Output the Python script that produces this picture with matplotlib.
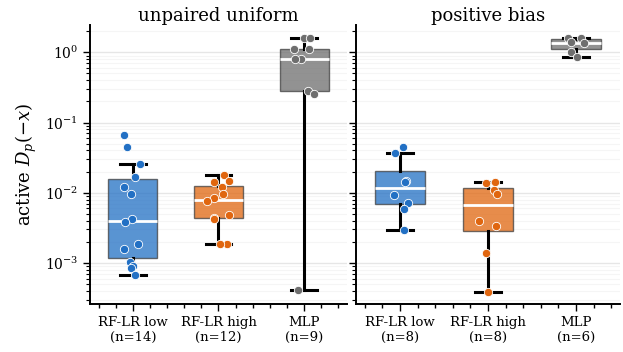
import matplotlib
matplotlib.use("Agg")
import matplotlib.pyplot as plt
from matplotlib.ticker import MultipleLocator, LogLocator, NullFormatter
import numpy as np

plt.rcParams["font.family"] = "DejaVu Serif"
plt.rcParams["mathtext.fontset"] = "dejavuserif"

panels = ["unpaired uniform", "positive bias"]
models = ["RF-LR low", "RF-LR high", "MLP"]
colors = ["#2270c4", "#e0660f", "#6e6e6e"]

# active D_p(-x) per run
uniform_low = [0.0667, 0.0454, 0.0258, 0.0167, 0.0119, 0.00964, 0.00425,
               0.00377, 0.00186, 0.00156, 0.00103, 0.00091, 0.000846, 0.000673]
uniform_high = [0.0180, 0.0148, 0.0141, 0.0120, 0.00955, 0.00828, 0.00759,
                0.00485, 0.00440, 0.00425, 0.00186, 0.00185]
uniform_mlp = [1.61, 1.60, 1.11, 1.10, 0.81, 0.80, 0.284, 0.252, 0.000406]

bias_low = [0.0450, 0.0366, 0.0149, 0.0141, 0.00933, 0.00718, 0.00585, 0.00297]
bias_high = [0.0141, 0.0138, 0.0108, 0.00955, 0.00398, 0.00331, 0.00137, 0.00039]
bias_mlp = [1.58, 1.58, 1.39, 1.34, 1.02, 0.866]

data = [
    [uniform_low, uniform_high, uniform_mlp],
    [bias_low, bias_high, bias_mlp],
]

fig = plt.figure(figsize=(6.23, 3.52), dpi=100)
ax_l = fig.add_axes([90 / 623, 48 / 352, 257 / 623, 279 / 352])
ax_r = fig.add_axes([356 / 623, 48 / 352, 264 / 623, 279 / 352], sharey=ax_l)
axes = [ax_l, ax_r]

rng = np.random.default_rng(3)

for ax, title, groups in zip(axes, panels, data):
    ax.set_yscale("log")
    ax.set_ylim(2.6e-4, 2.45)
    ax.set_xlim(-0.5, 2.5)
    ax.grid(True, which="major", axis="y", color="#e6e6e6", lw=1.0, zorder=0)
    ax.grid(True, which="minor", axis="y", color="#f5f5f5", lw=0.8, zorder=0)

    for i, (vals, c) in enumerate(zip(groups, colors)):
        bp = ax.boxplot([vals], positions=[i], widths=0.57, patch_artist=True,
                        showfliers=False, whis=1.5,
                        boxprops=dict(facecolor=c, alpha=0.75, lw=1.0),
                        medianprops=dict(color="white", lw=2.0),
                        whiskerprops=dict(color="black", lw=2.2),
                        capprops=dict(color="black", lw=2.2),
                        capwidths=0.3, zorder=2)
        for b in bp["boxes"]:
            b.set_edgecolor((0.25, 0.25, 0.25, 1.0))
        xs = i + rng.uniform(-0.13, 0.13, len(vals))
        ax.scatter(xs, vals, s=36, color=c, edgecolor="white", lw=0.6, zorder=3)

    counts = [f"{m}\n(n={len(v)})" for m, v in zip(models, groups)]
    ax.set_xticks(range(len(models)))
    ax.set_xticklabels(counts, fontsize=9.5)
    ax.xaxis.set_minor_locator(MultipleLocator(0.2))
    ax.tick_params(axis="x", which="major", length=5, width=1)
    ax.tick_params(axis="x", which="minor", length=3, width=1)
    ax.tick_params(axis="y", which="major", length=5, width=1, labelsize=10)
    ax.tick_params(axis="y", which="minor", length=3, width=0.8)
    ax.yaxis.set_major_locator(LogLocator(base=10, numticks=10))
    ax.yaxis.set_minor_locator(LogLocator(base=10, subs=np.arange(2, 10), numticks=10))
    ax.yaxis.set_minor_formatter(NullFormatter())
    ax.set_title(title, fontsize=13, pad=3)
    for side in ("top", "right"):
        ax.spines[side].set_visible(False)
    for side in ("left", "bottom"):
        ax.spines[side].set_linewidth(1.4)

ax_r.tick_params(axis="y", labelleft=False)
ax_l.set_ylabel("active $D_p(-x)$", fontsize=13)

fig.savefig("out.png", dpi=100)
